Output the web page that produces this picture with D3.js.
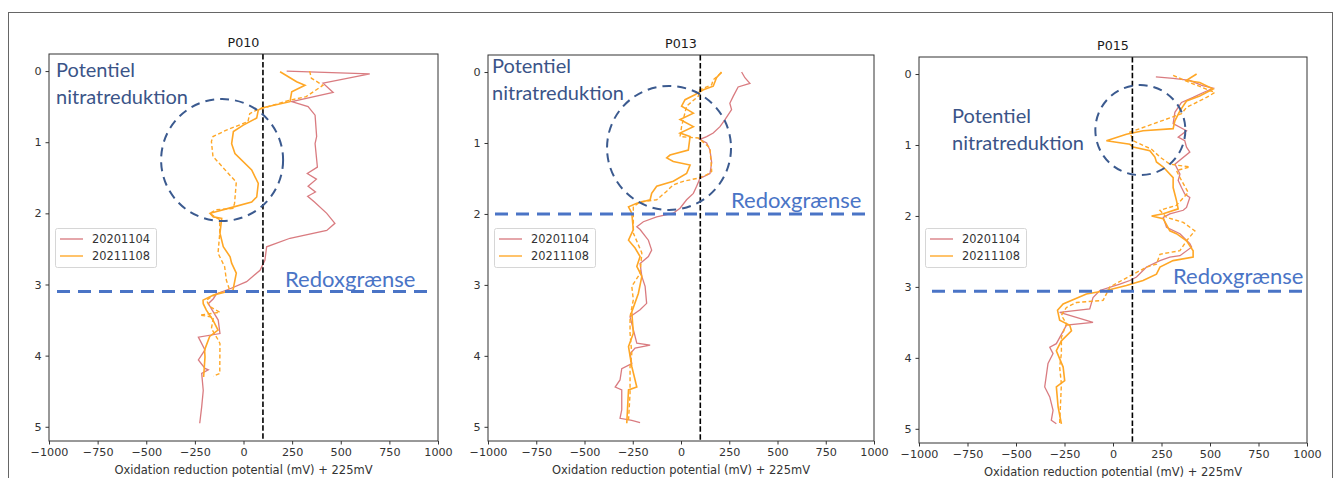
<!DOCTYPE html>
<html>
<head>
<meta charset="utf-8">
<script src="https://cdn.jsdelivr.net/npm/d3@7"></script>
<style>
  body { margin: 0; background: #fff; }
  svg { display: block; }
</style>
</head>
<body>
<div id="chart"></div>
<script>
// depth (m) vs ORP (mV + 225): [depth, value]
const p010Red = [[0,222],[0.04,649],[0.17,409],[0.30,461],[0.43,248],[0.50,332],[0.62,368],[0.92,376],[1.02,368],[1.35,380],[1.44,328],[1.52,375],[1.62,332],[1.70,370],[1.76,330],[1.84,365],[2.0,428],[2.14,470],[2.24,428],[2.35,239],[2.47,119],[2.66,110],[2.80,85],[2.96,16],[3.06,-69],[3.13,-138],[3.2,-155],[3.27,-181],[3.50,-130],[3.69,-121],[3.74,-232],[3.92,-198],[4.06,-232],[4.18,-198],[4.2,-181],[4.25,-215],[4.49,-207],[4.72,-215],[4.95,-225]];
const p010Orange = [[0.01,188],[0.15,273],[0.20,316],[0.29,248],[0.43,239],[0.52,93],[0.55,76],[0.66,68],[0.76,-1],[0.85,-52],[1.02,-61],[1.16,-44],[1.39,42],[1.58,76],[1.77,68],[1.84,42],[1.93,-78],[2.0,-172],[2.05,-155],[2.07,-112],[2.28,-121],[2.47,-104],[2.61,-69],[2.70,-61],[2.84,-37],[3.08,-54],[3.15,-157],[3.22,-208],[3.27,-207],[3.36,-191],[3.50,-157],[3.64,-131],[3.73,-174],[3.92,-200],[4.02,-198],[4.30,-205]];
const p010Dashed = [[0,340],[0.10,349],[0.20,408],[0.36,322],[0.41,237],[0.55,66],[0.60,32],[0.71,23],[0.83,-88],[0.92,-157],[0.99,-165],[1.20,-157],[1.46,-71],[1.56,-37],[1.86,-46],[1.93,-54],[1.95,-140],[2.0,-174],[2.09,-122],[2.28,-122],[2.56,-131],[2.75,-97],[2.94,-88],[3.08,-71],[3.13,-140],[3.22,-191],[3.31,-174],[3.39,-121],[3.43,-224],[3.46,-155],[3.62,-165],[3.78,-130],[3.83,-121],[4.20,-122],[4.25,-121],[4.29,-155]];

const p013Red = [[0,314],[0.08,331],[0.16,357],[0.21,296],[0.34,271],[0.44,253],[0.53,262],[0.67,228],[0.77,202],[0.86,167],[0.91,133],[0.95,98],[1.0,133],[1.10,150],[1.28,159],[1.43,150],[1.50,98],[1.61,81],[1.71,64],[1.80,29],[1.92,-5],[1.99,-40],[2.04,-126],[2.11,-195],[2.18,-229],[2.22,-212],[2.37,-169],[2.51,-152],[2.60,-169],[2.70,-212],[2.88,-203],[3.02,-186],[3.26,-178],[3.35,-212],[3.45,-264],[3.63,-247],[3.82,-229],[3.85,-160],[3.89,-238],[3.97,-264],[4.11,-255],[4.18,-307],[4.34,-316],[4.44,-341],[4.48,-307],[4.76,-307],[4.88,-316],[4.91,-255],[4.94,-212]];
const p013Orange = [[0,210],[0.08,184],[0.20,167],[0.25,116],[0.32,72],[0.39,21],[0.48,3],[0.58,64],[0.67,-5],[0.77,64],[0.86,-5],[0.91,47],[1.10,38],[1.17,-57],[1.21,-74],[1.26,-40],[1.31,47],[1.43,29],[1.54,-40],[1.61,-126],[1.71,-152],[1.80,-160],[1.85,-229],[1.90,-272],[1.99,-255],[2.22,-247],[2.37,-272],[2.48,-238],[2.60,-212],[2.74,-229],[2.88,-203],[3.12,-221],[3.38,-255],[3.68,-247],[3.87,-272],[4.15,-255],[4.44,-229],[4.48,-272],[4.95,-281]];
const p013Dashed = [[0.01,210],[0.11,167],[0.18,159],[0.25,98],[0.34,90],[0.48,29],[0.77,3],[0.91,-5],[0.93,90],[1.07,150],[1.40,159],[1.45,133],[1.50,81],[1.54,12],[1.59,-40],[1.68,-74],[1.80,-126],[1.83,-212],[1.90,-247],[2.27,-247],[2.55,-203],[2.84,-212],[3.02,-255],[3.21,-247],[3.45,-264],[3.68,-264],[3.97,-255],[4.15,-264],[4.53,-264],[4.91,-272]];

const p015Red = [[0.04,221],[0.06,310],[0.09,396],[0.16,457],[0.20,516],[0.26,466],[0.33,413],[0.40,353],[0.54,319],[0.70,310],[0.80,379],[0.89,336],[0.94,370],[1.03,379],[1.10,396],[1.27,319],[1.41,345],[1.50,336],[1.60,353],[1.69,370],[1.74,396],[1.88,379],[1.92,362],[1.97,293],[2.02,259],[2.16,276],[2.25,345],[2.39,396],[2.44,405],[2.56,345],[2.58,293],[2.63,242],[2.72,173],[2.86,121],[2.91,87],[2.96,35],[3.05,-68],[3.15,-103],[3.31,-120],[3.36,-275],[3.50,-103],[3.54,-240],[3.80,-292],[3.85,-326],[3.94,-309],[4.08,-335],[4.41,-352],[4.55,-326],[4.74,-309],[4.88,-318],[4.93,-292]];
const p015Orange = [[0,431],[0.09,379],[0.12,447],[0.21,516],[0.31,447],[0.38,379],[0.52,345],[0.66,319],[0.77,310],[0.80,155],[0.85,69],[0.94,-34],[0.99,87],[1.03,104],[1.08,190],[1.17,216],[1.24,224],[1.31,259],[1.46,310],[1.60,310],[1.78,327],[1.90,336],[1.97,259],[2.0,199],[2.04,259],[2.21,293],[2.25,327],[2.35,379],[2.49,413],[2.58,413],[2.63,310],[2.72,242],[2.82,224],[2.91,155],[2.98,69],[3.05,-34],[3.10,-137],[3.24,-257],[3.33,-286],[3.47,-275],[3.54,-223],[3.62,-214],[3.76,-266],[3.90,-292],[4.13,-257],[4.32,-249],[4.41,-292],[4.69,-283],[4.93,-266]];
const p015Dashed = [[0.02,310],[0.12,396],[0.26,525],[0.33,482],[0.47,379],[0.56,353],[0.82,87],[0.94,104],[1.06,199],[1.17,242],[1.27,293],[1.31,396],[1.36,327],[1.50,353],[1.67,388],[1.85,327],[1.92,242],[2.02,276],[2.09,362],[2.21,422],[2.35,379],[2.49,345],[2.54,242],[2.68,224],[2.72,173],[3.0,-16],[3.19,-51],[3.22,-188],[3.29,-240],[3.40,-266],[3.52,-240],[3.71,-266],[3.94,-266],[4.13,-275],[4.37,-266],[4.93,-275]];

const titles = ["P010", "P013", "P015"];
const seriesLabels = ["20201104", "20211108"];
const xTicks = [-1000, -750, -500, -250, 0, 250, 500, 750, 1000];
const yTicks = [0, 1, 2, 3, 4, 5];
const redoxDepths = [3.10, 2.0, 3.06];
const refLine = 100;

const width = 1338, height = 478;
const redColor = "#d56d72";
const orangeColor = "#ffa726";

// panel frames in pixels
const panels = [
  {title: titles[0], red: p010Red, orange: p010Orange, dashed: p010Dashed, left: 49, right: 438, top: 54, bottom: 441,
   circle: [-110, 1.25, 61], pot: [56, 77], redoxX: [57, 433], redoxText: [285, 287]},
  {title: titles[1], red: p013Red, orange: p013Orange, dashed: p013Dashed, left: 488, right: 874, top: 55, bottom: 441,
   circle: [-62, 1.07, 62], pot: [492, 73], redoxX: [495, 872], redoxText: [731, 208]},
  {title: titles[2], red: p015Red, orange: p015Orange, dashed: p015Dashed, left: 919, right: 1307, top: 57, bottom: 443,
   circle: [141, 0.79, 45], pot: [952, 123], redoxX: [932, 1307], redoxText: [1173, 284]}
];

const svg = d3.select("#chart").append("svg")
  .attr("width", width)
  .attr("height", height);

// outer border around the whole figure
svg.append("rect")
  .attr("x", 8.5).attr("y", 12.5)
  .attr("width", 1324).attr("height", 500)
  .attr("fill", "none").attr("stroke", "#666").attr("stroke-width", 1);

panels.forEach((p, i) => {
  const x = d3.scaleLinear().domain([-1000, 1000]).range([p.left, p.right]);
  const y = d3.scaleLinear().domain([-0.24, 5.2]).range([p.top, p.bottom]);
  const g = svg.append("g");

  const line = d3.line().x(d => x(d[1])).y(d => y(d[0]));

  g.append("path").datum(p.red)
    .attr("d", line).attr("fill", "none")
    .attr("stroke", redColor).attr("stroke-width", 1.3).attr("opacity", 0.9);
  g.append("path").datum(p.orange)
    .attr("d", line).attr("fill", "none")
    .attr("stroke", orangeColor).attr("stroke-width", 1.6);
  g.append("path").datum(p.dashed)
    .attr("d", line).attr("fill", "none")
    .attr("stroke", orangeColor).attr("stroke-width", 1.4)
    .attr("stroke-dasharray", "4,2.5");

  // reference line at 100 mV
  g.append("line")
    .attr("x1", x(refLine)).attr("x2", x(refLine))
    .attr("y1", p.top).attr("y2", p.bottom)
    .attr("stroke", "#000").attr("stroke-width", 1.6)
    .attr("stroke-dasharray", "5.5,2.4");

  // axes frame
  g.append("rect")
    .attr("x", p.left).attr("y", p.top)
    .attr("width", p.right - p.left).attr("height", p.bottom - p.top)
    .attr("fill", "none").attr("stroke", "#333").attr("stroke-width", 1);

  const xAxis = g.append("g")
    .attr("transform", `translate(0,${p.bottom})`)
    .call(d3.axisBottom(x).tickValues(xTicks).tickSize(3.5).tickPadding(4)
      .tickFormat(d => d < 0 ? "\u2212" + Math.abs(d) : d));
  const yAxis = g.append("g")
    .attr("transform", `translate(${p.left},0)`)
    .call(d3.axisLeft(y).tickValues(yTicks).tickSize(3.5).tickPadding(4)
      .tickFormat(d3.format("d")));
  [xAxis, yAxis].forEach(a => {
    a.select(".domain").remove();
    a.selectAll("line").attr("stroke", "#333");
    a.selectAll("text").attr("fill", "#333")
      .style("font-family", "DejaVu Sans").style("font-size", "11.2px");
  });

  g.append("text")
    .attr("x", (p.left + p.right) / 2).attr("y", p.bottom + 33)
    .attr("text-anchor", "middle")
    .style("font-family", "DejaVu Sans").style("font-size", "11.5px")
    .attr("fill", "#333")
    .text("Oxidation reduction potential (mV) + 225mV");

  g.append("text")
    .attr("x", (p.left + p.right) / 2).attr("y", p.top - 7)
    .attr("text-anchor", "middle")
    .style("font-family", "DejaVu Sans").style("font-size", "12.7px")
    .attr("fill", "#1a1a1a")
    .text(p.title);

  // legend
  const lg = g.append("g").attr("transform", `translate(${p.left + 6},228)`);
  lg.append("rect")
    .attr("x", 0.5).attr("y", 0.5).attr("width", 101).attr("height", 39).attr("rx", 2)
    .attr("fill", "#fff").attr("fill-opacity", 0.8)
    .attr("stroke", "#d6d6d6");
  seriesLabels.forEach((s, k) => {
    const yy = 11 + k * 17;
    lg.append("line").attr("x1", 5).attr("x2", 28).attr("y1", yy).attr("y2", yy)
      .attr("stroke", k === 0 ? redColor : orangeColor).attr("stroke-width", 1.5)
      .attr("opacity", k === 0 ? 0.8 : 0.9);
    lg.append("text").attr("x", 37).attr("y", yy + 4)
      .style("font-family", "DejaVu Sans").style("font-size", "11.4px")
      .attr("fill", "#333").text(s);
  });

  // annotations
  g.append("circle")
    .attr("cx", x(p.circle[0])).attr("cy", y(p.circle[1])).attr("r", p.circle[2])
    .attr("fill", "none").attr("stroke", "#3b5a8f").attr("stroke-width", 2)
    .attr("stroke-dasharray", "9,6");

  g.append("line")
    .attr("x1", p.redoxX[0]).attr("x2", p.redoxX[1])
    .attr("y1", y(redoxDepths[i])).attr("y2", y(redoxDepths[i]))
    .attr("stroke", "#4a74c6").attr("stroke-width", 3)
    .attr("stroke-dasharray", "13,8");

  const pot = g.append("text")
    .style("font-family", "Lato").style("font-size", "20px")
    .attr("fill", "#3b5488");
  pot.append("tspan").attr("x", p.pot[0]).attr("y", p.pot[1]).text("Potentiel");
  pot.append("tspan").attr("x", p.pot[0]).attr("y", p.pot[1] + 27).text("nitratreduktion");

  g.append("text")
    .attr("x", p.redoxText[0]).attr("y", p.redoxText[1])
    .style("font-family", "Lato").style("font-size", "22px")
    .attr("fill", "#4a74c6")
    .text("Redoxgrænse");
});
</script>
</body>
</html>
